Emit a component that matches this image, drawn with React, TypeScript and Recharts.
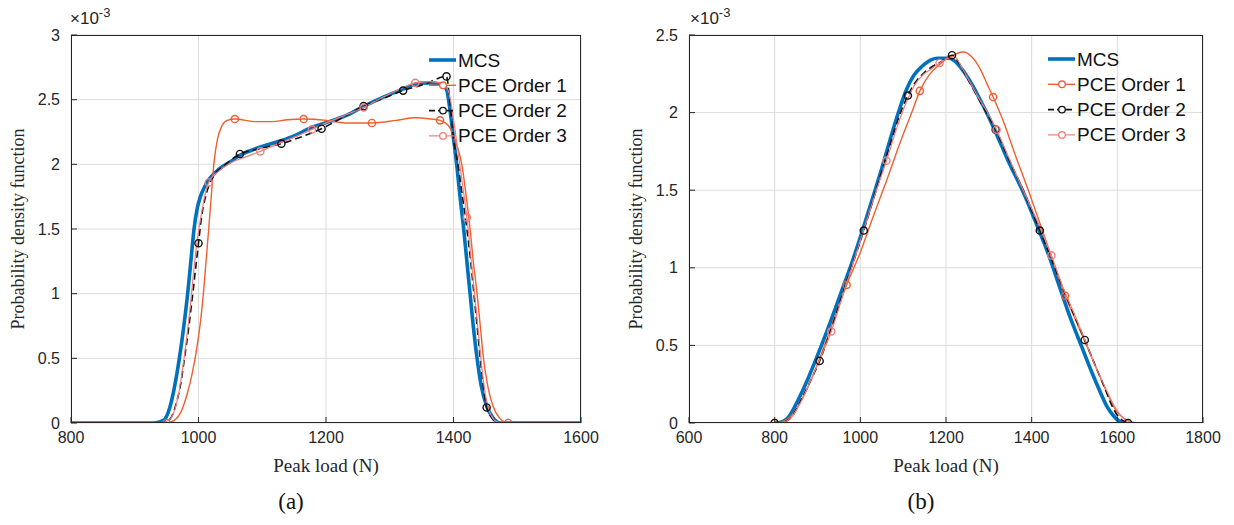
import React from 'react';
import { LineChart, Line, XAxis, YAxis, CartesianGrid, Legend } from 'recharts';

// points are [peak load (N), pdf (x1e-3), marker?]
type Pt = [number, number, number?];

// ---- panel (a) ----
const mcsA: Pt[] = [[800,0],[930,0],[945,0.02],[955,0.12],[962,0.27],[970,0.5],[977,0.75],[983,1.0],[988,1.25],[993,1.5],[998,1.66],[1003,1.75],[1010,1.83],[1016,1.88],[1025,1.93],[1034,1.97],[1050,2.02],[1065,2.07],[1095,2.13],[1128,2.18],[1150,2.22],[1175,2.28],[1205,2.33],[1233,2.38],[1260,2.45],[1290,2.52],[1320,2.58],[1340,2.62],[1360,2.63],[1380,2.62],[1389,2.58],[1395,2.4],[1400,2.2],[1405,2.0],[1410,1.76],[1416,1.5],[1421,1.25],[1426,1.0],[1431,0.75],[1437,0.5],[1443,0.3],[1452,0.13],[1462,0.04],[1473,0],[1600,0]];
const pce1A: Pt[] = [[800,0],[950,0,1],[962,0.02],[972,0.08],[982,0.22],[990,0.38],[998,0.6],[1004,0.82],[1008,1.02],[1012,1.26],[1016,1.5],[1020,1.75],[1024,2.0],[1030,2.2],[1037,2.3],[1045,2.34],[1057,2.35,1],[1090,2.33],[1115,2.33],[1140,2.345],[1165,2.35,1],[1200,2.34],[1230,2.32],[1272,2.32,1],[1310,2.34],[1340,2.36],[1365,2.35],[1379,2.34,1],[1392,2.3],[1400,2.22],[1407,2.12],[1413,2.0],[1420,1.75],[1426,1.5],[1431,1.25],[1437,1.0],[1442,0.75],[1447,0.5],[1454,0.28],[1462,0.13],[1472,0.04],[1481,0.005],[1486,0,1],[1600,0]];
const pce2A: Pt[] = [[800,0],[940,0],[955,0.03],[965,0.15],[972,0.3],[978,0.5],[985,0.75],[991,1.0],[1000,1.39,1],[1005,1.6],[1010,1.73],[1016,1.83],[1025,1.92],[1040,1.99],[1065,2.08,1],[1095,2.12],[1130,2.16,1],[1160,2.21],[1193,2.275,1],[1225,2.36],[1259,2.45,1],[1290,2.51],[1321,2.57,1],[1355,2.62],[1389,2.68,1],[1394,2.5],[1400,2.2],[1407,2.0],[1414,1.75],[1421,1.5],[1427,1.25],[1432,1.0],[1437,0.75],[1442,0.5],[1447,0.28],[1452,0.12,1],[1460,0.04],[1470,0],[1600,0]];
const pce3A: Pt[] = [[800,0],[940,0],[955,0.03],[965,0.14],[973,0.35],[980,0.6],[987,0.9],[993,1.2],[999,1.45],[1005,1.63],[1010,1.76],[1016,1.86,1],[1030,1.94],[1050,2.01],[1070,2.05],[1097,2.1,1],[1130,2.17],[1150,2.21],[1178,2.27,1],[1205,2.33],[1230,2.38],[1259,2.44,1],[1290,2.52],[1315,2.58],[1340,2.63,1],[1365,2.64],[1385,2.62],[1393,2.55],[1400,2.35],[1407,2.1],[1414,1.85],[1421,1.59,1],[1427,1.3],[1433,1.0],[1439,0.7],[1444,0.45],[1450,0.22],[1458,0.07],[1468,0.01],[1478,0],[1600,0]];

// ---- panel (b) ----
const mcsB: Pt[] = [[800,0],[815,0.005],[830,0.03],[855,0.15],[880,0.3],[905,0.47],[930,0.65],[955,0.84],[980,1.03],[1005,1.24],[1030,1.46],[1050,1.64],[1070,1.83],[1090,2.01],[1108,2.15],[1125,2.24],[1145,2.3],[1165,2.34],[1180,2.35],[1208,2.35],[1225,2.32],[1245,2.25],[1263,2.17],[1280,2.08],[1295,2.0],[1326,1.81],[1350,1.66],[1380,1.49],[1410,1.29],[1440,1.08],[1466,0.87],[1490,0.68],[1517,0.49],[1540,0.33],[1560,0.2],[1575,0.11],[1590,0.05],[1603,0.015],[1615,0]];
const pce1B: Pt[] = [[800,0,1],[820,0.01],[840,0.05],[865,0.16],[890,0.31],[915,0.49],[940,0.68],[968,0.89,1],[1000,1.1],[1030,1.33],[1061,1.56],[1096,1.83],[1120,2.0],[1139,2.14,1],[1160,2.24],[1185,2.31],[1210,2.36],[1240,2.39],[1260,2.36],[1280,2.28],[1295,2.19],[1310,2.1,1],[1333,1.95],[1360,1.74],[1396,1.47],[1420,1.28],[1445,1.08],[1478,0.82,1],[1500,0.68],[1525,0.52],[1550,0.36],[1575,0.2],[1595,0.09],[1615,0.03],[1635,0.005],[1650,0]];
const pce2B: Pt[] = [[800,0,1],[820,0.005],[840,0.04],[862,0.15],[885,0.28],[905,0.4,1],[930,0.59],[955,0.8],[980,1.01],[1008,1.24,1],[1030,1.44],[1050,1.62],[1070,1.8],[1090,1.97],[1111,2.11,1],[1130,2.2],[1150,2.26],[1170,2.3],[1190,2.33],[1214,2.37,1],[1230,2.32],[1250,2.22],[1270,2.12],[1290,2.02],[1316,1.89,1],[1345,1.71],[1380,1.5],[1419,1.24,1],[1450,1.03],[1480,0.82],[1500,0.69],[1524,0.535,1],[1550,0.36],[1570,0.23],[1586,0.12],[1600,0.05],[1613,0.015],[1625,0,1]];
const pce3B: Pt[] = [[800,0],[820,0.005],[840,0.04],[862,0.14],[885,0.28],[910,0.44],[932,0.59,1],[960,0.83],[990,1.09],[1020,1.35],[1040,1.52],[1061,1.69,1],[1085,1.9],[1105,2.05],[1125,2.17],[1145,2.24],[1165,2.28],[1185,2.32,1],[1205,2.35],[1220,2.36],[1235,2.3],[1255,2.2],[1275,2.1],[1295,2.01],[1318,1.89,1],[1345,1.72],[1380,1.5],[1415,1.29],[1446,1.08,1],[1475,0.86],[1500,0.7],[1525,0.53],[1550,0.36],[1575,0.21],[1595,0.1],[1615,0.03],[1635,0.005],[1645,0]];

const xTicksA = [800, 1000, 1200, 1400, 1600];
const yTicksA = [0, 0.5, 1, 1.5, 2, 2.5, 3];
const xTicksB = [600, 800, 1000, 1200, 1400, 1600, 1800];
const yTicksB = [0, 0.5, 1, 1.5, 2, 2.5];
const seriesNames = ['MCS', 'PCE Order 1', 'PCE Order 2', 'PCE Order 3'];

const STYLES = [
  { color: '#0072BD', width: 3.6, dash: undefined as string | undefined, marker: false },
  { color: '#EF5F2F', width: 1.4, dash: undefined, marker: true },
  { color: '#111111', width: 1.6, dash: '7 4', marker: true },
  { color: '#F27C7C', width: 1.2, dash: undefined, marker: true },
];

const SANS = '"Liberation Sans", Arial, sans-serif';
const SERIF = '"Liberation Serif", "Times New Roman", serif';
const INK = '#262626';

const toRows = (pts: Pt[]) => pts.map(([x, y, m]) => ({ x, y, m: !!m }));

const markerDot = (color: string) => (props: any) => {
  const { cx, cy, payload, index } = props;
  if (!payload || !payload.m || cx == null) return <g key={`d-${index}`} />;
  return <circle key={`d-${index}`} cx={cx} cy={cy} r={3.6} fill="none" stroke={color} strokeWidth={1.4} />;
};

const renderLegend = () => (
  <svg width={160} height={105} style={{ overflow: 'visible' }}>
    {STYLES.map((s, i) => {
      const y = 12 + i * 25.3;
      return (
        <g key={i}>
          <line x1={0} x2={27} y1={y} y2={y} stroke={s.color} strokeWidth={s.width} strokeDasharray={s.dash ? '6 3' : undefined} />
          {s.marker && <circle cx={14} cy={y} r={3.3} fill="#fff" stroke={s.color} strokeWidth={1.3} />}
          <text x={29} y={y} dominantBaseline="central" fontFamily={SANS} fontSize={19} fill="#111">
            {seriesNames[i]}
          </text>
        </g>
      );
    })}
  </svg>
);

interface PanelProps {
  left: number;
  width: number;
  plotLeft: number;
  plotRight: number;
  series: Pt[][];
  xDomain: [number, number];
  yDomain: [number, number];
  xTicks: number[];
  yTicks: number[];
  legendLeft: number;
  legendTop: number;
}

const H = 470;
const TOP = 35;
const BOTTOM = 423;

const Panel: React.FC<PanelProps> = (p) => {
  const yAxisW = p.plotLeft - p.left;
  const rightM = p.left + p.width - p.plotRight;
  return (
    <>
      <div style={{ position: 'absolute', left: p.left, top: 0 }}>
        <LineChart width={p.width} height={H} margin={{ top: TOP, right: rightM, left: 0, bottom: 0 }}>
          <CartesianGrid stroke="#dcdcdc" strokeWidth={1} />
          <XAxis
            type="number"
            dataKey="x"
            domain={p.xDomain}
            ticks={p.xTicks}
            allowDataOverflow
            height={H - BOTTOM}
            axisLine={false}
            tickSize={-6}
            tickMargin={15}
            tickLine={{ stroke: INK }}
            tick={{ fontFamily: SANS, fontSize: 16, fill: INK }}
          />
          <YAxis
            type="number"
            dataKey="y"
            domain={p.yDomain}
            ticks={p.yTicks}
            allowDataOverflow
            width={yAxisW}
            axisLine={false}
            tickSize={-6}
            tickMargin={17}
            tickLine={{ stroke: INK }}
            tick={{ fontFamily: SANS, fontSize: 16, fill: INK }}
          />
          {p.series.map((pts, i) => (
            <Line
              key={i}
              data={toRows(pts)}
              dataKey="y"
              type="monotone"
              stroke={STYLES[i].color}
              strokeWidth={STYLES[i].width}
              strokeDasharray={STYLES[i].dash}
              dot={STYLES[i].marker ? markerDot(STYLES[i].color) : false}
              activeDot={false}
              isAnimationActive={false}
            />
          ))}
          <Legend
            layout="vertical"
            align="center"
            verticalAlign="middle"
            content={renderLegend}
            wrapperStyle={{ left: p.legendLeft, top: p.legendTop, width: 160 }}
          />
        </LineChart>
      </div>
      <div
        style={{
          position: 'absolute',
          left: p.plotLeft,
          top: TOP,
          width: p.plotRight - p.plotLeft,
          height: BOTTOM - TOP,
          border: `1px solid ${INK}`,
          boxSizing: 'border-box',
          pointerEvents: 'none',
        }}
      />
    </>
  );
};

const absText = (extra: React.CSSProperties): React.CSSProperties => ({
  position: 'absolute',
  whiteSpace: 'nowrap',
  color: INK,
  ...extra,
});

export default function App() {
  return (
    <div style={{ position: 'relative', width: 1234, height: 525, background: '#fff', overflow: 'hidden' }}>
      <style>{'body{margin:0}'}</style>
      <Panel
        left={0}
        width={605}
        plotLeft={71}
        plotRight={581}
        series={[mcsA, pce1A, pce2A, pce3A]}
        xDomain={[800, 1600]}
        yDomain={[0, 3]}
        xTicks={xTicksA}
        yTicks={yTicksA}
        legendLeft={429}
        legendTop={48}
      />
      <Panel
        left={610}
        width={624}
        plotLeft={689}
        plotRight={1203}
        series={[mcsB, pce1B, pce2B, pce3B]}
        xDomain={[600, 1800]}
        yDomain={[0, 2.5]}
        xTicks={xTicksB}
        yTicks={yTicksB}
        legendLeft={438}
        legendTop={47}
      />

      {/* exponent labels */}
      <div style={absText({ left: 70, top: 5, fontFamily: SANS, fontSize: 17 })}>
        ×10<sup style={{ fontSize: 13 }}>-3</sup>
      </div>
      <div style={absText({ left: 690, top: 5, fontFamily: SANS, fontSize: 17 })}>
        ×10<sup style={{ fontSize: 13 }}>-3</sup>
      </div>

      {/* y titles */}
      <div style={absText({ left: 18, top: 229, fontFamily: SERIF, fontSize: 18, transform: 'translate(-50%, -50%) rotate(-90deg)' })}>
        Probability density function
      </div>
      <div style={absText({ left: 636, top: 229, fontFamily: SERIF, fontSize: 18, transform: 'translate(-50%, -50%) rotate(-90deg)' })}>
        Probability density function
      </div>

      {/* x titles */}
      <div style={absText({ left: 326, top: 466, fontFamily: SERIF, fontSize: 19, transform: 'translate(-50%, -50%)' })}>
        Peak load (N)
      </div>
      <div style={absText({ left: 946, top: 466, fontFamily: SERIF, fontSize: 19, transform: 'translate(-50%, -50%)' })}>
        Peak load (N)
      </div>

      {/* captions */}
      <div style={absText({ left: 291, top: 502, fontFamily: SERIF, fontSize: 23, transform: 'translate(-50%, -50%)', color: '#111' })}>
        (a)
      </div>
      <div style={absText({ left: 921, top: 502, fontFamily: SERIF, fontSize: 23, transform: 'translate(-50%, -50%)', color: '#111' })}>
        (b)
      </div>
    </div>
  );
}
